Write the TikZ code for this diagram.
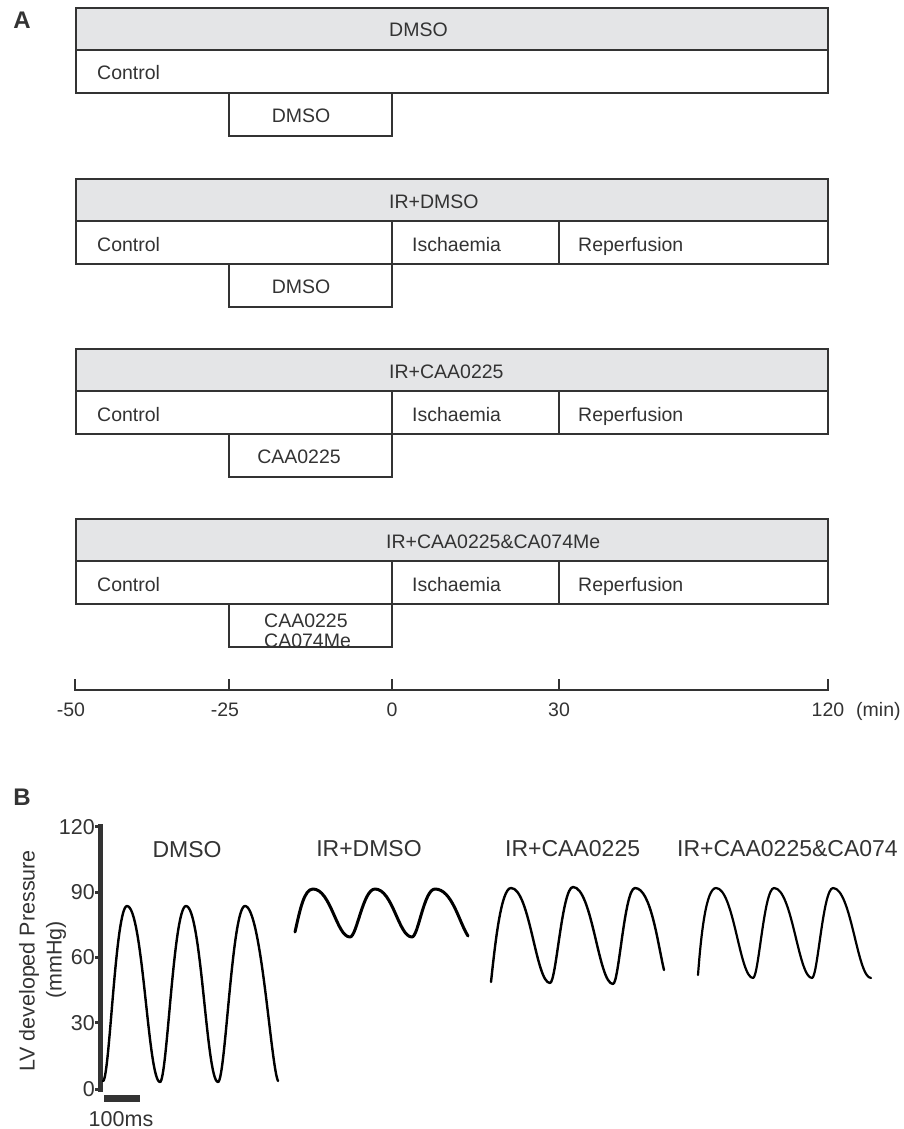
\documentclass[tikz,border=0pt]{standalone}
\usepackage{fontspec}
\setmainfont{Liberation Sans}
\definecolor{ink}{HTML}{333333}
\definecolor{hdr}{HTML}{E4E5E7}
\newcommand\wup[4]{.. controls ({#1+0.27*(#3-#1)},#2) and ({#3-0.48*(#3-#1)},#4) .. (#3,#4)}
\newcommand\wdn[4]{.. controls ({#1+0.48*(#3-#1)},#2) and ({#3-0.36*(#3-#1)},#4) .. (#3,#4)}
\tikzset{
  bx/.style={draw=ink, line width=2pt},
  hd/.style={bx, fill=hdr},
  ta/.style={font=\fontsize{19.5}{22}\selectfont, text=ink, inner sep=0pt},
  tb/.style={font=\fontsize{23}{27}\selectfont, text=ink, inner sep=0pt},
  tc/.style={font=\fontsize{21.5}{25}\selectfont, text=ink, inner sep=0pt},
  lab/.style={font=\fontsize{24}{28}\bfseries\selectfont, text=ink, inner sep=0pt},
  trc/.style={line width=2.4pt, black, line cap=round, line join=round},
}
\begin{document}
\begin{tikzpicture}[x=1pt,y=-1pt]
\path[use as bounding box] (0,0) rectangle (904,1129);
% ---------- Panel A ----------
\node[lab] (A) at (22,20) {A};
% block 1
\draw[hd] (76,8) rectangle (828,50);
\draw[bx] (76,50) rectangle (828,93);
\draw[bx] (229,93) rectangle (392,136);
\node[ta, anchor=base west] (h1) at (389,37) {DMSO};
\node[ta, anchor=base west] (c1) at (97,80) {Control};
\node[ta, anchor=base] (d1) at (301,122) {DMSO};
% block 2
\draw[hd] (76,179) rectangle (828,221);
\draw[bx] (76,221) rectangle (828,264);
\draw[bx] (392,221) -- (392,264) (559,221) -- (559,264);
\draw[bx] (229,264) rectangle (392,307);
\node[ta, anchor=base west] (h2) at (389,208) {IR+DMSO};
\node[ta, anchor=base west] (c2) at (97,251) {Control};
\node[ta, anchor=base west] (i2) at (412,251) {Ischaemia};
\node[ta, anchor=base west] (r2) at (578,251) {Reperfusion};
\node[ta, anchor=base] (d2) at (301,293) {DMSO};
% block 3
\draw[hd] (76,349) rectangle (828,391);
\draw[bx] (76,391) rectangle (828,434);
\draw[bx] (392,391) -- (392,434) (559,391) -- (559,434);
\draw[bx] (229,434) rectangle (392,477);
\node[ta, anchor=base west] (h3) at (389,378) {IR+CAA0225};
\node[ta, anchor=base west] (c3) at (97,421) {Control};
\node[ta, anchor=base west] (i3) at (412,421) {Ischaemia};
\node[ta, anchor=base west] (r3) at (578,421) {Reperfusion};
\node[ta, anchor=base] (d3) at (299,463) {CAA0225};
% block 4
\draw[hd] (76,519) rectangle (828,561);
\draw[bx] (76,561) rectangle (828,604);
\draw[bx] (392,561) -- (392,604) (559,561) -- (559,604);
\draw[bx] (229,604) rectangle (392,647);
\node[ta, anchor=base west] (h4) at (386,548) {IR+CAA0225\&CA074Me};
\node[ta, anchor=base west] (c4) at (97,591) {Control};
\node[ta, anchor=base west] (i4) at (412,591) {Ischaemia};
\node[ta, anchor=base west] (r4) at (578,591) {Reperfusion};
\node[ta, anchor=base west] (d4a) at (264,627) {CAA0225};
\node[ta, anchor=base west] (d4b) at (264,647) {CA074Me};
% time axis
\draw[ink, line width=2.2pt] (75,679) -- (75,690) -- (828,690) -- (828,679);
\draw[ink, line width=2.2pt] (229,679) -- (229,690) (392,679) -- (392,690) (559,679) -- (559,690);
\node[ta, anchor=base] (t1) at (71,716) {-50};
\node[ta, anchor=base] (t2) at (225,716) {-25};
\node[ta, anchor=base] (t3) at (392,716) {0};
\node[ta, anchor=base] (t4) at (559,716) {30};
\node[ta, anchor=base] (t5) at (828,716) {120};
\node[ta, anchor=base west] (t6) at (856,716) {(min)};
% ---------- Panel B ----------
\node[lab] (B) at (22,797) {B};
\draw[ink, line width=5pt] (100.5,824) -- (100.5,1092);
\foreach \yy in {826.5,892,957,1022.5,1089} \draw[ink, line width=3pt] (95,\yy) -- (100,\yy);
\node[tc, anchor=base east] (y120) at (95,834) {120};
\node[tc, anchor=base east] (y90) at (95,899.5) {90};
\node[tc, anchor=base east] (y60) at (95,964.5) {60};
\node[tc, anchor=base east] (y30) at (95,1030) {30};
\node[tc, anchor=base east] (y0) at (95,1096.5) {0};
\node[tc, rotate=90] (yl1) at (29,961) {LV developed Pressure};
\node[tc, rotate=90] (yl2) at (56,960) {(mmHg)};
\draw[ink, line width=7pt] (104,1098) -- (140,1098);
\node[tc, anchor=base] (sb) at (121,1126) {100ms};
\node[tb, anchor=base] (bt1) at (187,857) {DMSO};
\node[tb, anchor=base] (bt2) at (369,856) {IR+DMSO};
\node[tb, anchor=base west] (bt3) at (505,856) {IR+CAA0225};
\node[tb, anchor=base west] (bt4) at (677,856) {IR+CAA0225\&CA074};
% traces
\draw[trc] (103,1081) \wup{103}{1081}{127}{906} \wdn{127}{906}{160}{1082}
  \wup{160}{1082}{186}{906} \wdn{186}{906}{218}{1082}
  \wup{218}{1082}{245}{906} .. controls (261,906) and (271,1066) .. (278,1081);
\draw[trc, line width=3pt] (295,932) .. controls (300,910) and (304,889) .. (313,889)
  \wdn{313}{889}{350}{937} \wup{350}{937}{375}{889}
  \wdn{375}{889}{412}{937} \wup{412}{937}{435}{889}
  .. controls (452,889) and (459,922) .. (468,936);
\draw[trc] (491,982) .. controls (495,945) and (501,888) .. (511,888)
  \wdn{511}{888}{550}{983} \wup{550}{983}{573}{887}
  \wdn{573}{887}{613}{984} \wup{613}{984}{635}{888}
  .. controls (651,888) and (658,945) .. (664,970);
\draw[trc, line width=2.2pt] (698,975) .. controls (701,935) and (706,888) .. (716,888)
  \wdn{716}{888}{753}{978} \wup{753}{978}{774}{888}
  \wdn{774}{888}{812}{978} \wup{812}{978}{833}{888}
  \wdn{833}{888}{871}{978};
\end{tikzpicture}
\end{document}
